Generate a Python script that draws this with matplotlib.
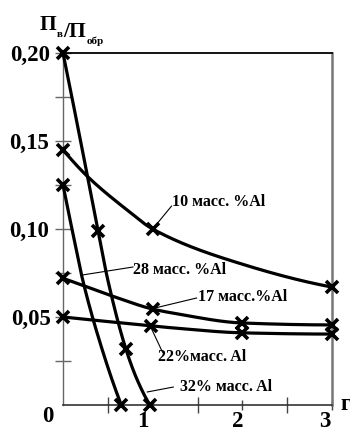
import numpy as np
import matplotlib
matplotlib.use("Agg")
import matplotlib.pyplot as plt
from matplotlib.transforms import ScaledTranslation

# ---- data ----
# line traces
x10_line = [0.0, 0.27, 0.71, 1.0, 2.0, 3.0]
y10_line = [0.145, 0.130, 0.111, 0.100, 0.080, 0.067]
x17_line = [0.0, 0.22, 0.6, 1.0, 1.25, 2.0, 3.0]
y17_line = [0.072, 0.068, 0.061, 0.0545, 0.052, 0.0466, 0.0455]
x22_line = [0.0, 0.98, 1.25, 2.0, 3.0]
y22_line = [0.050, 0.045, 0.0437, 0.041, 0.0403]
x28_line = [0.0, 0.10, 0.22, 0.44, 0.65]
y28_line = [0.125, 0.100, 0.071, 0.031, 0.0]
x32_line = [0.0, 0.2, 0.39, 0.5, 0.70, 0.83, 0.97]
y32_line = [0.200, 0.149, 0.099, 0.071, 0.032, 0.014, 0.0]

# measured points (markers)
x10_pts = [0.0, 1.0, 3.0]
y10_pts = [0.145, 0.100, 0.067]
x17_pts = [0.0, 1.0, 2.0, 3.0]
y17_pts = [0.072, 0.0545, 0.0466, 0.0455]
x22_pts = [0.0, 0.98, 2.0, 3.0]
y22_pts = [0.050, 0.045, 0.041, 0.0403]
x28_pts = [0.0, 0.65]
y28_pts = [0.125, 0.0]
x32_pts = [0.0, 0.39, 0.70, 0.97]
y32_pts = [0.200, 0.099, 0.032, 0.0]

curve_labels = ["10 масс. %Al", "17 масс.%Al", "22%масс. Al", "28 масс. %Al", "32% масс. Al"]
ytick_vals = [0.05, 0.10, 0.15, 0.20]
ytick_text = ["0,05", "0,10", "0,15", "0,20"]
xtick_vals = [1, 2, 3]
xtick_text = ["1", "2", "3"]


def pchip(x, y, xn):
    x = np.asarray(x, float); y = np.asarray(y, float)
    h = np.diff(x); d = np.diff(y) / h
    n = len(x)
    m = np.zeros(n)
    if n == 2:
        m[:] = d[0]
    else:
        for k in range(1, n - 1):
            if d[k - 1] * d[k] > 0:
                w1 = 2 * h[k] + h[k - 1]; w2 = h[k] + 2 * h[k - 1]
                m[k] = (w1 + w2) / (w1 / d[k - 1] + w2 / d[k])
        m[0] = ((2 * h[0] + h[1]) * d[0] - h[0] * d[1]) / (h[0] + h[1])
        if np.sign(m[0]) != np.sign(d[0]):
            m[0] = 0
        m[-1] = ((2 * h[-1] + h[-2]) * d[-1] - h[-1] * d[-2]) / (h[-1] + h[-2])
        if np.sign(m[-1]) != np.sign(d[-1]):
            m[-1] = 0
    i = np.clip(np.searchsorted(x, xn) - 1, 0, n - 2)
    t = (xn - x[i]) / h[i]
    h00 = 2 * t**3 - 3 * t**2 + 1; h10 = t**3 - 2 * t**2 + t
    h01 = -2 * t**3 + 3 * t**2; h11 = t**3 - t**2
    return h00 * y[i] + h10 * h[i] * m[i] + h01 * y[i + 1] + h11 * h[i] * m[i + 1]


plt.rcParams['font.family'] = ['Liberation Serif', 'DejaVu Serif']
plt.rcParams['font.weight'] = 'bold'

fig = plt.figure(figsize=(3.5, 4.32), dpi=100)
ax = fig.add_axes([63 / 350, 27 / 432, (332 - 63) / 350, (405 - 53) / 432])
ax.set_xlim(0, 3)
ax.set_ylim(0, 0.2)

lines = [(x10_line, y10_line, x10_pts, y10_pts),
         (x17_line, y17_line, x17_pts, y17_pts),
         (x22_line, y22_line, x22_pts, y22_pts),
         (x28_line, y28_line, x28_pts, y28_pts),
         (x32_line, y32_line, x32_pts, y32_pts)]
for xl, yl, xp, yp in lines:
    xn = np.linspace(xl[0], xl[-1], 300)
    ax.plot(xn, pchip(xl, yl, xn), color='black', lw=2.3, clip_on=False,
            solid_capstyle='butt', zorder=3)
    ax.plot(xp, yp, ls='none', marker='x', ms=9, mew=2.6, color='black',
            clip_on=False, zorder=4)

# curve labels with leader lines: (text x, text y, leader from, leader to)
lab_pos = [(1.22, 0.1153, (1.0, 0.100), (1.21, 0.113)),
           (1.50, 0.0614, (1.0, 0.0548), (1.49, 0.0608)),
           (1.06, 0.0273, (0.99, 0.043), (1.11, 0.030)),
           (0.78, 0.0767, (0.22, 0.0739), (0.78, 0.0784)),
           (1.31, 0.0102, (0.94, 0.0074), (1.23, 0.0102))]
for txt, (tx, ty, p0, p1) in zip(curve_labels, lab_pos):
    ax.text(tx, ty, txt, fontsize=11.5, fontweight='bold', ha='left',
            va='center', zorder=5)
    ax.plot([p0[0], p1[0]], [p0[1], p1[1]], color='black', lw=0.8, zorder=2)

# spines
ax.spines['top'].set_color('black'); ax.spines['top'].set_linewidth(1.3)
ax.spines['right'].set_color('#777777'); ax.spines['right'].set_linewidth(1.8)
ax.spines['left'].set_color('#666666'); ax.spines['left'].set_linewidth(1.0)
ax.spines['bottom'].set_color('#333333'); ax.spines['bottom'].set_linewidth(1.2)

# ticks
ax.set_yticks(ytick_vals)
ax.set_yticklabels(ytick_text, fontsize=16.5, fontweight='bold')
ax.set_yticks([0.025, 0.075, 0.125, 0.175], minor=True)
ax.tick_params(axis='y', which='both', direction='inout', length=12,
               width=1, color='#666666', pad=3)
ax.set_xticks(xtick_vals)
ax.set_xticklabels(xtick_text, fontsize=16.5, fontweight='bold')
ax.set_xticks([0.5, 1.5, 2.5], minor=True)
ax.tick_params(axis='x', which='major', direction='inout', length=7,
               width=1, color='#444444', pad=1)
ax.tick_params(axis='x', which='minor', direction='inout', length=12,
               width=1, color='#444444')
for lab, dx in zip(ax.get_xticklabels(), [-10, -5, -7]):
    lab.set_transform(lab.get_transform() + ScaledTranslation(dx / 100, 0, fig.dpi_scale_trans))
for lab, dx in zip(ax.get_yticklabels(), [1, -1, -1, 0]):
    lab.set_transform(lab.get_transform() + ScaledTranslation(dx / 100, 0, fig.dpi_scale_trans))

# origin label and x axis label
fig.text(48 / 350, 1 - 416 / 432, "0", fontsize=16.5, fontweight='bold',
         ha='center', va='center')
fig.text(340 / 350, 1 - 404 / 432, "г", fontsize=16.5, fontweight='bold',
         ha='left', va='center')

# y-axis title П_в/П_обр built from pieces
t1 = fig.text(40 / 350, 1 - 30 / 432, "П", fontsize=15.5, fontweight='bold',
              ha='left', va='baseline')
t2 = ax.annotate("в", xy=(1, 0), xycoords=t1, xytext=(0.3, -1.5),
                 textcoords='offset points', fontsize=8, fontweight='bold',
                 va='baseline', annotation_clip=False)
t3 = ax.annotate("/П", xy=(1, 0), xycoords=t2, xytext=(0, 1.5),
                 textcoords='offset points', fontsize=15.5, fontweight='bold',
                 va='baseline', annotation_clip=False)
t4 = ax.annotate("обр", xy=(1, 0), xycoords=t3, xytext=(0.3, -1.5),
                 textcoords='offset points', fontsize=8, fontweight='bold',
                 va='baseline', annotation_clip=False)

fig.savefig("out.png", dpi=100)
